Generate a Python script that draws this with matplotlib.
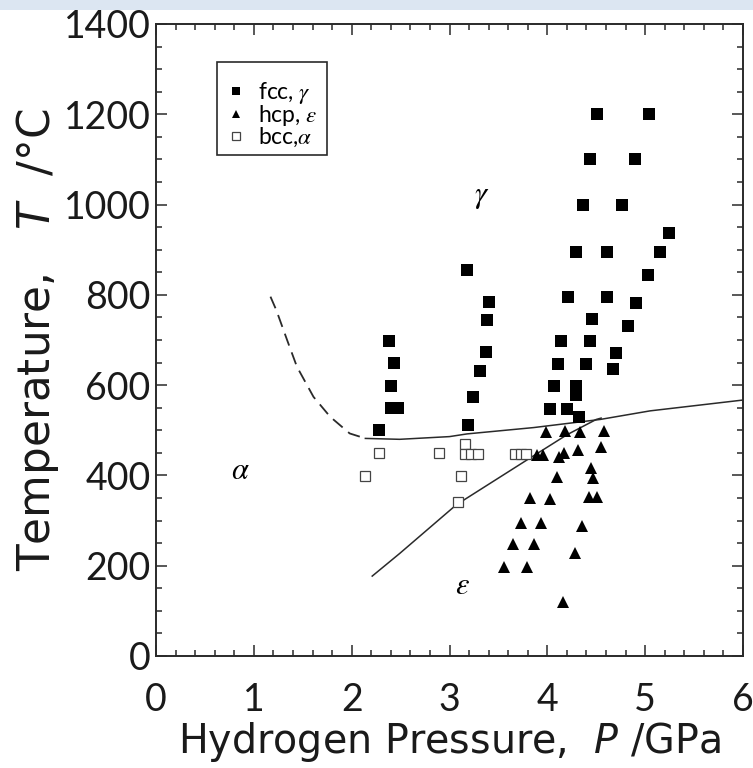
import matplotlib
matplotlib.use("Agg")
import matplotlib.pyplot as plt
from matplotlib.ticker import MultipleLocator
from matplotlib.patches import Rectangle

# ---- data ----
fcc_P = [4.51, 5.04, 4.44, 4.90, 4.36, 4.76, 5.24, 4.29, 4.61, 5.15, 3.18, 5.03,
         3.40, 4.21, 4.61, 4.91, 4.46, 3.38, 4.82, 4.14, 4.44, 3.37, 4.70, 3.31,
         4.11, 4.40, 4.67, 3.24, 3.19, 4.07, 4.29, 4.29, 4.03, 4.20, 4.32,
         2.38, 2.43, 2.40, 2.40, 2.47, 2.28]
fcc_T = [1200, 1200, 1100, 1100, 1000, 1000, 938, 894, 894, 894, 854, 843,
         785, 796, 796, 781, 746, 744, 732, 698, 698, 674, 671, 632,
         647, 647, 635, 574, 512, 598, 598, 578, 547, 547, 530,
         698, 648, 598, 549, 549, 501]

hcp_P = [3.99, 4.18, 4.33, 4.58, 3.89, 3.96, 4.12, 4.17, 4.31, 4.55, 4.45, 4.47,
         4.10, 3.82, 4.03, 4.43, 4.51, 3.73, 3.94, 4.35, 3.65, 3.86, 4.28, 3.56,
         3.79, 4.16]
hcp_T = [497, 499, 496, 499, 445, 445, 440, 449, 456, 464, 417, 395,
         397, 349, 348, 353, 353, 295, 295, 289, 247, 247, 228, 197,
         197, 120]

bcc_P = [2.28, 2.89, 2.14, 3.16, 3.16, 3.22, 3.29, 3.12, 3.09, 3.67, 3.73, 3.78]
bcc_T = [449, 449, 399, 469, 447, 447, 447, 399, 342, 447, 447, 447]

dash_P = [1.17, 1.23, 1.34, 1.44, 1.61, 1.78, 1.98, 2.14]
dash_T = [796, 766, 700, 641, 574, 530, 493, 482]

upper_P = [2.14, 2.49, 3.00, 3.18, 3.86, 4.54, 5.05, 6.00]
upper_T = [482, 480, 486, 492, 506, 524, 543, 567]

lower_P = [2.21, 2.49, 3.07, 3.79, 4.20, 4.50, 4.55]
lower_T = [177, 227, 335, 434, 490, 524, 527]

legend_labels = ['fcc, $\\gamma$', 'hcp, $\\varepsilon$', 'bcc,$\\alpha$']
region_labels = ['$\\gamma$', '$\\alpha$', '$\\varepsilon$']
region_P = [3.33, 0.86, 3.13]
region_T = [1017, 412, 157]
x_ticks = [0, 1, 2, 3, 4, 5, 6]
y_ticks = [0, 200, 400, 600, 800, 1000, 1200, 1400]

plt.rcParams['font.family'] = ['Lato', 'DejaVu Sans']
plt.rcParams['mathtext.fontset'] = 'dejavusans'

fig = plt.figure(figsize=(7.53, 7.68), dpi=100)
fig.patches.append(Rectangle((0, 1 - 10 / 768), 1, 10 / 768, transform=fig.transFigure,
                             facecolor='#dce6f2', edgecolor='none', zorder=0))
ax = fig.add_axes([156 / 753, 1 - 656 / 768, 587 / 753, 632 / 768])

lc = '#2a2a2a'
ax.plot(dash_P, dash_T, color=lc, lw=1.3, dashes=(7, 4))
ax.plot(upper_P, upper_T, color=lc, lw=1.1)
ax.plot(lower_P, lower_T, color=lc, lw=1.1)

h1, = ax.plot(fcc_P, fcc_T, 's', color='black', ms=8, mew=0, label=legend_labels[0], ls='none')
h2, = ax.plot(hcp_P, hcp_T, '^', color='black', ms=8.5, mew=0, label=legend_labels[1], ls='none')
h3, = ax.plot(bcc_P, bcc_T, 's', mfc='white', mec='#444444', ms=7.5, mew=0.9,
              label=legend_labels[2], ls='none')

for lab, p, t in zip(region_labels, region_P, region_T):
    ax.text(p, t, lab, fontsize=22, ha='center', va='center', math_fontfamily='stix')

ax.set_xlim(0, 6)
ax.set_ylim(0, 1400)
ax.set_xticks(x_ticks)
ax.set_yticks(y_ticks)
ax.xaxis.set_minor_locator(MultipleLocator(0.2))
ax.yaxis.set_minor_locator(MultipleLocator(50))
ax.tick_params(which='both', direction='in', top=True, right=True, width=1.1, color=lc)
ax.tick_params(which='major', length=8, labelsize=27, pad=4, labelcolor='#1a1a1a')
ax.tick_params(axis='x', which='major', pad=19)
ax.tick_params(which='minor', length=4)
for s in ax.spines.values():
    s.set_linewidth(1.4)
    s.set_color(lc)

ax.set_xlabel('Hydrogen Pressure,  $P$ /GPa', fontsize=28.5, labelpad=1,
              family='DejaVu Sans', color='#1a1a1a')
ax.set_ylabel('Temperature,   $T$  /°C', fontsize=31.5, labelpad=2,
              family='DejaVu Sans', color='#1a1a1a')

# legend frame drawn as its own box, entries placed inside it
ax.add_patch(Rectangle((0.1039, 0.7927), 0.2913 - 0.1039, 0.9399 - 0.7927,
                       transform=ax.transAxes, facecolor='white', edgecolor=lc,
                       lw=1.2, zorder=3))
leg = ax.legend(handles=[h1, h2, h3], loc='upper left', bbox_to_anchor=(0.118, 0.912),
                borderaxespad=0, fontsize=16.5, frameon=False,
                labelspacing=-0.1, handlelength=0.9,
                handletextpad=0.55, borderpad=0, markerscale=0.75)
leg.set_zorder(4)
for t in leg.get_texts():
    t.set_math_fontfamily('stix')

fig.savefig('out.png', dpi=100)
